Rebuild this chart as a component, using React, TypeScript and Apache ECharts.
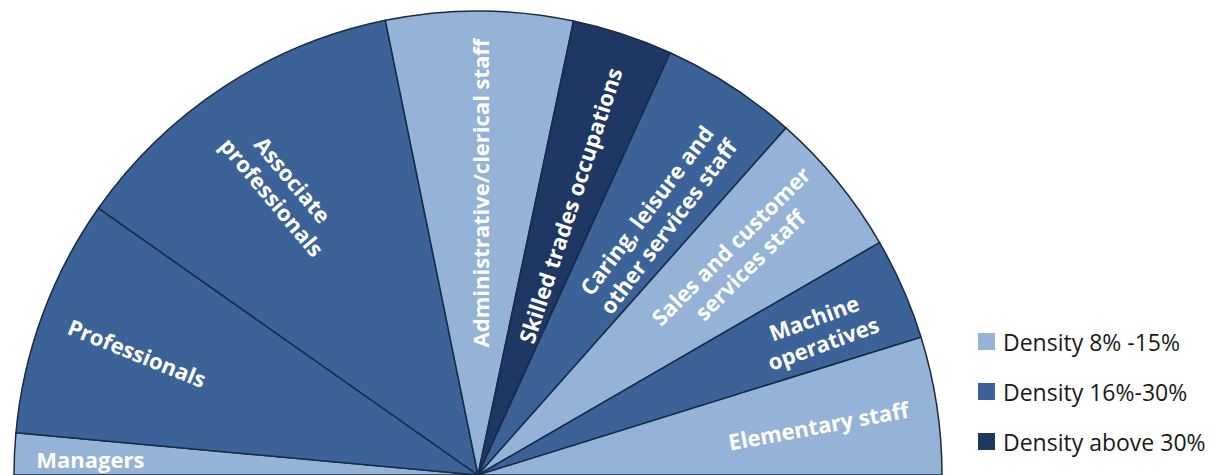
import React, { useEffect, useRef } from "react";
import * as echarts from "echarts";

const categories = [
  "Managers",
  "Professionals",
  "Associate\nprofessionals",
  "Administrative/clerical staff",
  "Skilled trades occupations",
  "Caring, leisure and\nother services staff",
  "Sales and customer\nservices staff",
  "Machine\noperatives",
  "Elementary staff",
];
// share of the half circle (percent)
const shares = [2.9, 16.6, 24.1, 13.0, 7.0, 9.5, 10.2, 7.1, 9.6];
// density band of each category: 0 = 8%-15%, 1 = 16%-30%, 2 = above 30%
const densityBand = [0, 1, 1, 0, 2, 1, 0, 1, 0];
const densityNames = ["Density 8% -15%", "Density 16%-30%", "Density above 30%"];

// styling
const bandColors = ["#95B3D7", "#3B6397", "#1E3763"];
const labelRadius = [388, 362, 347, 282, 285, 313, 342, 370, 344];
const labelAngleShift = [0.3, 0.4, 1.0, -0.2, -0.6, -1.8, 0.8, -0.6, -0.3];
const labelRotate = [0, -22, -50, 90, 72, 53, 45, 20, 10.5];

const CX = 478;
const CY = 475;
const R = 464;

export default function App() {
  const ref = useRef<HTMLDivElement>(null);
  useEffect(() => {
    if (!ref.current) return;
    const chart = echarts.init(ref.current, null, { renderer: "svg" });
    const total = shares.reduce((a, b) => a + b, 0);
    const midAngles: number[] = [];
    let acc = 0;
    shares.forEach((v) => {
      const mid = 180 - ((acc + v / 2) / total) * 180;
      midAngles.push(mid);
      acc += v;
    });
    const option: any = {
      animation: false,
      grid: { left: 0, top: 0, width: 1, height: 1, show: false },
      xAxis: { type: "category", show: false, data: [] },
      yAxis: { type: "value", show: false },
      legend: {
        orient: "vertical",
        left: 978,
        top: 330,
        icon: "rect",
        itemWidth: 17,
        itemHeight: 17,
        itemGap: 27,
        padding: 0,
        data: densityNames,
        selectedMode: false,
        textStyle: {
          fontFamily: "Open Sans",
          fontSize: 23,
          color: "#1a1a1a",
          padding: [0, 0, 0, 3],
        },
      },
      series: [
        {
          type: "pie",
          center: [CX, CY],
          radius: R,
          startAngle: 180,
          endAngle: 0,
          clockwise: true,
          avoidLabelOverlap: false,
          silent: true,
          itemStyle: { borderColor: "#1a2a48", borderWidth: 1.5 },
          label: {
            show: true,
            position: "inside",
            color: "#ffffff",
            fontFamily: "Open Sans",
            fontWeight: "bold",
            fontSize: 22,
            lineHeight: 27,
            formatter: "{b}",
          },
          labelLine: { show: false },
          labelLayout: (params: any) => {
            const i = params.dataIndex;
            const a = ((midAngles[i] + labelAngleShift[i]) * Math.PI) / 180;
            return {
              x: CX + labelRadius[i] * Math.cos(a),
              y: CY - labelRadius[i] * Math.sin(a),
              rotate: labelRotate[i],
              align: "center",
              verticalAlign: "middle",
            };
          },
          data: categories.map((name, i) => ({
            name,
            value: shares[i],
            itemStyle: { color: bandColors[densityBand[i]] },
          })),
        },
        ...densityNames.map((name, k) => ({
          type: "bar",
          name,
          data: [],
          itemStyle: { color: bandColors[k] },
        })),
      ],
    };
    chart.setOption(option);
    return () => chart.dispose();
  }, []);
  return (
    <div
      ref={ref}
      style={{ position: "absolute", left: 0, top: 0, width: 1221, height: 475 }}
    />
  );
}
